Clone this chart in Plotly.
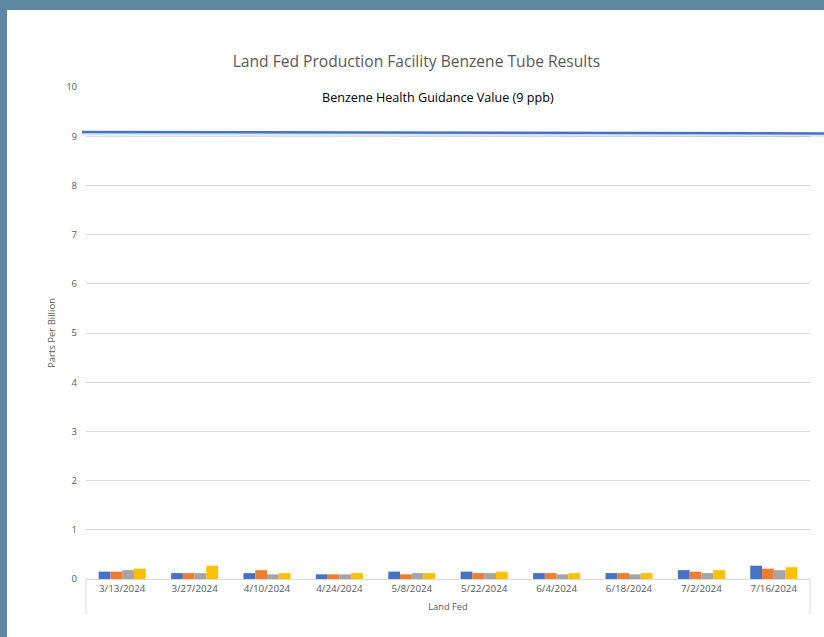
import plotly.graph_objects as go

dates = ["3/13/2024", "3/27/2024", "4/10/2024", "4/24/2024", "5/8/2024",
         "5/22/2024", "6/4/2024", "6/18/2024", "7/2/2024", "7/16/2024"]
tube1 = [0.15, 0.12, 0.12, 0.095, 0.15, 0.15, 0.12, 0.12, 0.18, 0.27]
tube2 = [0.15, 0.12, 0.18, 0.095, 0.095, 0.12, 0.12, 0.12, 0.15, 0.21]
tube3 = [0.18, 0.12, 0.095, 0.095, 0.12, 0.12, 0.095, 0.095, 0.12, 0.18]
tube4 = [0.21, 0.27, 0.12, 0.12, 0.12, 0.15, 0.12, 0.12, 0.18, 0.24]
series_names = ["Tube 1", "Tube 2", "Tube 3", "Tube 4"]
colors = ["#4472C4", "#ED7D31", "#A5A5A5", "#FFC000"]
y_ticks = list(range(0, 11))

FONT = "Open Sans"
BORDER = "#5E87A2"
fig = go.Figure()
for name, vals, c in zip(series_names, [tube1, tube2, tube3, tube4], colors):
    fig.add_trace(go.Bar(x=dates, y=vals, name=name, marker=dict(color=c, line=dict(width=0))))

W, H = 824, 637
L, R, T, B = 86, 14, 87, 58
pw = W - L - R
ph = H - T - B

def px(x):
    return (x - L) / pw

def py(y):
    return (H - B - y) / ph

shapes = [
    dict(type="rect", xref="paper", yref="paper", x0=px(7), x1=px(830), y0=py(645), y1=py(10),
         fillcolor="white", line=dict(width=0), layer="below"),
    dict(type="line", xref="paper", yref="paper", x0=0, x1=0, y0=0, y1=py(614),
         line=dict(color="#D9D9D9", width=1)),
    dict(type="line", xref="paper", yref="paper", x0=1, x1=1, y0=0, y1=py(614),
         line=dict(color="#D9D9D9", width=1)),
    dict(type="line", xref="paper", yref="paper", x0=px(82), x1=px(830), y0=py(134), y1=py(135.5),
         line=dict(color="rgba(68,114,196,0.18)", width=3), layer="above"),
    dict(type="line", xref="paper", yref="paper", x0=px(82), x1=px(830), y0=py(132), y1=py(133.5),
         line=dict(color="#4472C4", width=2.5), layer="above"),
]

fig.update_layout(
    width=W, height=H,
    margin=dict(l=L, r=R, t=T, b=B, autoexpand=False),
    paper_bgcolor=BORDER,
    plot_bgcolor="white",
    barmode="group", bargap=0.35, bargroupgap=0,
    showlegend=False,
    font=dict(family=FONT, color="#595959", size=9),
    title=dict(text="Land Fed Production Facility Benzene Tube Results",
               x=416.5 / W, xanchor="center", y=1 - 62 / H, yanchor="middle",
               font=dict(family=FONT, size=15.6, color="#595959")),
    xaxis=dict(showgrid=False, showline=True, linecolor="#D9D9D9", linewidth=1,
               ticks="", tickfont=dict(size=9.8, color="#595959"),
               title=dict(text="Land Fed", font=dict(size=9.3, color="#595959"), standoff=9)),
    yaxis=dict(range=[0, 10], tickvals=y_ticks, showgrid=True, gridcolor="#D9D9D9",
               gridwidth=1, zeroline=False, showline=False, ticks="",
               tickfont=dict(size=9.5, color="#595959"), ticklabelstandoff=8,
               title=dict(text="Parts Per Billion", font=dict(size=9.5, color="#595959"), standoff=8)),
    shapes=shapes,
    annotations=[dict(text="Benzene Health Guidance Value (9 ppb)", xref="paper", yref="paper",
                      x=px(437.5), y=py(98), xanchor="center", yanchor="middle", showarrow=False,
                      font=dict(family=FONT, size=12.6, color="#000000"))],
)

fig.write_html("out.html", config={"displayModeBar": False},
               post_script="document.body.style.margin='0';document.body.style.background='%s';" % BORDER)
